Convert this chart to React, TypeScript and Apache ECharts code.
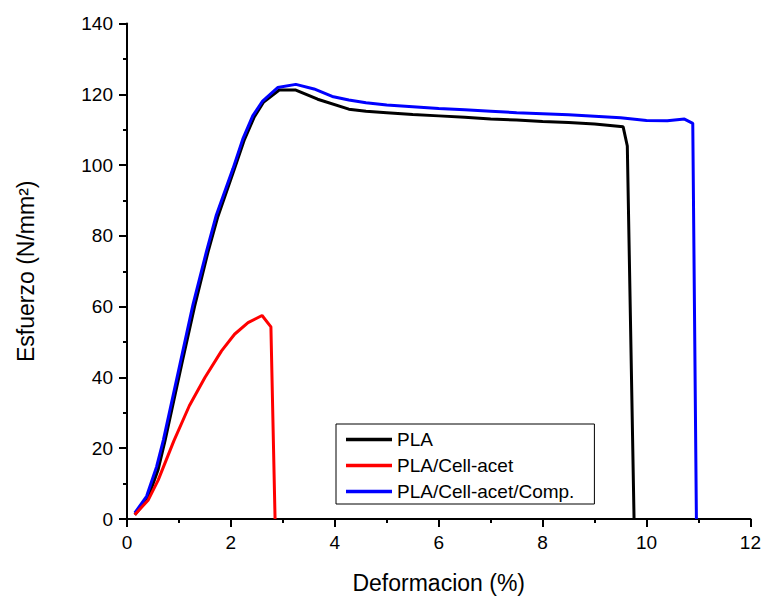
import React, { useEffect, useRef } from "react";
import * as echarts from "echarts";

const seriesNames = ["PLA", "PLA/Cell-acet", "PLA/Cell-acet/Comp."];
const seriesColors = ["#000000", "#ff0000", "#0000ff"];

const plaX = [0.15, 0.4, 0.6, 0.73, 1.05, 1.3, 1.56, 1.75, 2.07, 2.26, 2.45, 2.63, 2.93, 3.25, 3.67, 4.27, 4.6, 5.0, 5.5, 6.0, 6.5, 7.0, 7.5, 8.0, 8.5, 9.0, 9.55, 9.63, 9.76];
const plaY = [1.2, 5.8, 14.0, 22.0, 43.5, 60.0, 75.5, 85.5, 99.0, 107.2, 113.6, 117.8, 121.2, 121.2, 118.6, 115.8, 115.2, 114.8, 114.3, 113.9, 113.5, 113.0, 112.7, 112.3, 112.0, 111.6, 110.8, 105.4, 0];

const cellX = [0.15, 0.41, 0.6, 0.9, 1.2, 1.5, 1.82, 2.07, 2.33, 2.6, 2.77, 2.85];
const cellY = [1.2, 5.4, 11.0, 22.0, 32.0, 40.0, 47.5, 52.2, 55.5, 57.5, 54.3, 0];

const compX = [0.15, 0.377, 0.57, 0.7, 1.02, 1.27, 1.53, 1.72, 2.04, 2.23, 2.42, 2.61, 2.9, 3.25, 3.6, 3.95, 4.27, 4.6, 5.0, 5.5, 6.0, 6.5, 7.0, 7.5, 8.0, 8.5, 9.0, 9.5, 10.0, 10.4, 10.73, 10.89, 10.96];
const compY = [1.7, 6.4, 14.8, 22.3, 43.8, 60.6, 75.6, 85.9, 99.0, 107.4, 113.9, 118.1, 121.9, 122.8, 121.5, 119.4, 118.4, 117.6, 117.0, 116.5, 116.0, 115.6, 115.2, 114.8, 114.5, 114.2, 113.8, 113.4, 112.6, 112.5, 113.0, 111.8, 0];

const xTicks = { min: 0, max: 12, interval: 2 };
const yTicks = { min: 0, max: 140, interval: 20 };

const FONT = "'Liberation Sans', Arial, sans-serif";

function zip(xs: number[], ys: number[]) {
  return xs.map((x, i) => [x, ys[i]]);
}

export default function App() {
  const ref = useRef<HTMLDivElement>(null);
  useEffect(() => {
    if (!ref.current) return;
    const chart = echarts.init(ref.current, null, { renderer: "svg" });
    const datasets = [zip(plaX, plaY), zip(cellX, cellY), zip(compX, compY)];
    const axisCommon = {
      type: "value" as const,
      axisLine: { show: true, lineStyle: { color: "#000", width: 2 } },
      axisTick: { show: true, inside: false, length: 8, lineStyle: { color: "#000", width: 2 } },
      minorTick: { show: true, splitNumber: 2, length: 4, lineStyle: { color: "#000", width: 2 } },
      splitLine: { show: false },
      axisLabel: { color: "#000", fontSize: 19, fontFamily: FONT, margin: 14 },
      nameTextStyle: { color: "#000", fontSize: 23, fontFamily: FONT },
      nameLocation: "middle" as const,
    };
    chart.setOption({
      animation: false,
      backgroundColor: "#fff",
      grid: { left: 127, right: 11, top: 23.5, bottom: 76.3, containLabel: false },
      xAxis: {
        ...axisCommon,
        min: xTicks.min,
        max: xTicks.max,
        interval: xTicks.interval,
        name: "Deformacion (%)",
        nameGap: 52,
      },
      yAxis: {
        ...axisCommon,
        min: yTicks.min,
        max: yTicks.max,
        interval: yTicks.interval,
        name: "Esfuerzo (N/mm²)",
        nameGap: 90,
      },
      legend: {
        data: seriesNames,
        orient: "vertical",
        left: 336,
        top: 424,
        icon: "rect",
        itemWidth: 46,
        itemHeight: 3.5,
        itemGap: 7,
        padding: [6, 20, 3, 10],
        borderColor: "#000",
        borderWidth: 1,
        borderRadius: 0,
        textStyle: { color: "#000", fontSize: 19, fontFamily: FONT, lineHeight: 18 },
      },
      series: seriesNames.map((name, i) => ({
        name,
        type: "line",
        data: datasets[i],
        showSymbol: false,
        symbol: "none",
        lineStyle: { color: seriesColors[i], width: 3 },
        itemStyle: { color: seriesColors[i] },
        z: i === 1 ? 3 : i === 2 ? 2 : 1,
      })),
    });
    return () => chart.dispose();
  }, []);
  return <div ref={ref} style={{ width: 764, height: 599, position: "absolute", left: 0, top: 0 }} />;
}
